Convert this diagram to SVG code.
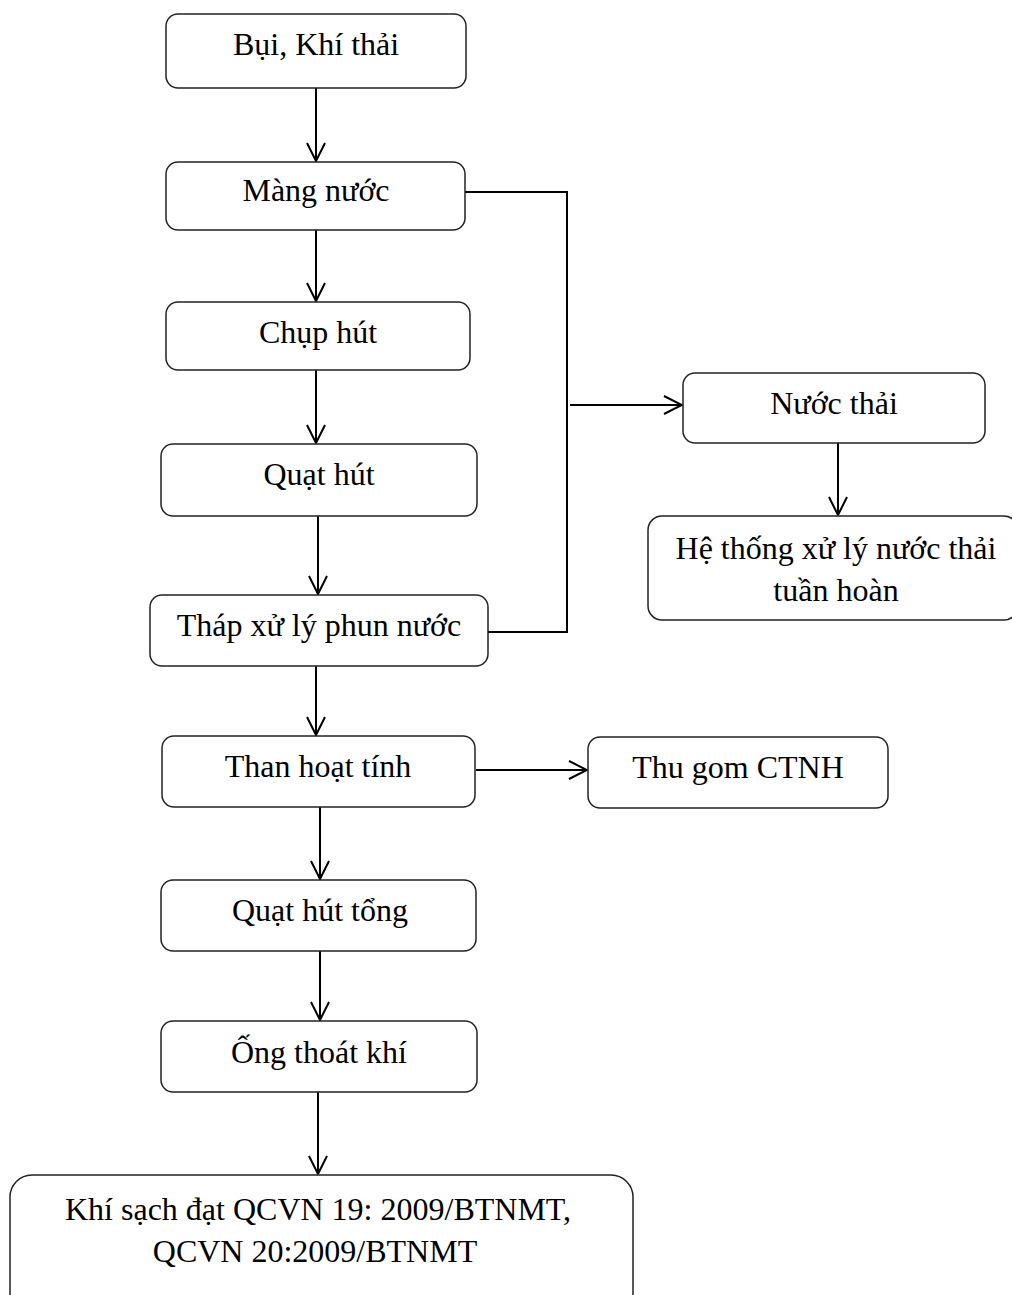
<svg xmlns="http://www.w3.org/2000/svg" width="1012" height="1295" viewBox="0 0 1012 1295">
  <defs>
    <marker id="arrow" viewBox="0 0 22 22" refX="20" refY="11" markerWidth="22" markerHeight="22" markerUnits="userSpaceOnUse" orient="auto">
      <path d="M2,2 L20,11 L2,20" fill="none" stroke="#000" stroke-width="2"/>
    </marker>
  </defs>
  <style>
    .box { fill: #fff; stroke: #222; stroke-width: 1.5; }
    .lbl { font-family: "Liberation Serif", "Times New Roman", serif; font-size: 32px; fill: #000; text-anchor: middle; }
    .edge { fill: none; stroke: #000; stroke-width: 2; }
  </style>
  <rect width="1012" height="1295" fill="#fff"/>

  <g id="connectors">
    <line class="edge" x1="316" y1="88" x2="316" y2="161" marker-end="url(#arrow)"/>
    <line class="edge" x1="316" y1="230" x2="316" y2="301" marker-end="url(#arrow)"/>
    <line class="edge" x1="316" y1="370" x2="316" y2="443" marker-end="url(#arrow)"/>
    <line class="edge" x1="318" y1="516" x2="318" y2="594" marker-end="url(#arrow)"/>
    <line class="edge" x1="316" y1="666" x2="316" y2="735" marker-end="url(#arrow)"/>
    <line class="edge" x1="320" y1="807" x2="320" y2="879" marker-end="url(#arrow)"/>
    <line class="edge" x1="320" y1="951" x2="320" y2="1020" marker-end="url(#arrow)"/>
    <line class="edge" x1="318" y1="1092" x2="318" y2="1174" marker-end="url(#arrow)"/>
    <!-- wastewater collection loop -->
    <polyline class="edge" points="465,192 567,192 567,632 488,632"/>
    <line class="edge" x1="570" y1="405" x2="682" y2="405" marker-end="url(#arrow)"/>
    <line class="edge" x1="838" y1="443" x2="838" y2="515" marker-end="url(#arrow)"/>
    <line class="edge" x1="476" y1="770" x2="587" y2="770" marker-end="url(#arrow)"/>
  </g>

  <g id="node-bui-khi-thai">
    <rect class="box" x="166" y="14" width="300" height="74" rx="12"/>
    <text class="lbl" x="316" y="55">Bụi, Khí thải</text>
  </g>
  <g id="node-mang-nuoc">
    <rect class="box" x="166" y="162" width="299" height="68" rx="12"/>
    <text class="lbl" x="316" y="201">Màng nước</text>
  </g>
  <g id="node-chup-hut">
    <rect class="box" x="166" y="302" width="304" height="68" rx="12"/>
    <text class="lbl" x="318" y="343">Chụp hút</text>
  </g>
  <g id="node-quat-hut">
    <rect class="box" x="161" y="444" width="316" height="72" rx="12"/>
    <text class="lbl" x="319" y="485">Quạt hút</text>
  </g>
  <g id="node-thap-xu-ly">
    <rect class="box" x="150" y="595" width="338" height="71" rx="12"/>
    <text class="lbl" x="319" y="636">Tháp xử lý phun nước</text>
  </g>
  <g id="node-than-hoat-tinh">
    <rect class="box" x="162" y="736" width="313" height="71" rx="12"/>
    <text class="lbl" x="318" y="777">Than hoạt tính</text>
  </g>
  <g id="node-quat-hut-tong">
    <rect class="box" x="161" y="880" width="315" height="71" rx="12"/>
    <text class="lbl" x="320" y="921">Quạt hút tổng</text>
  </g>
  <g id="node-ong-thoat-khi">
    <rect class="box" x="161" y="1021" width="316" height="71" rx="12"/>
    <text class="lbl" x="319" y="1063">Ống thoát khí</text>
  </g>
  <g id="node-khi-sach">
    <rect class="box" x="10" y="1175" width="623" height="140" rx="22"/>
    <text class="lbl" x="318" y="1220">Khí sạch đạt QCVN 19: 2009/BTNMT,</text>
    <text class="lbl" x="315" y="1262">QCVN 20:2009/BTNMT</text>
  </g>
  <g id="node-nuoc-thai">
    <rect class="box" x="683" y="373" width="302" height="70" rx="12"/>
    <text class="lbl" x="834" y="414">Nước thải</text>
  </g>
  <g id="node-he-thong-xu-ly">
    <rect class="box" x="648" y="516" width="370" height="104" rx="14"/>
    <text class="lbl" x="836" y="559">Hệ thống xử lý nước thải</text>
    <text class="lbl" x="836" y="601">tuần hoàn</text>
  </g>
  <g id="node-thu-gom-ctnh">
    <rect class="box" x="588" y="737" width="300" height="71" rx="12"/>
    <text class="lbl" x="738" y="778">Thu gom CTNH</text>
  </g>
</svg>
